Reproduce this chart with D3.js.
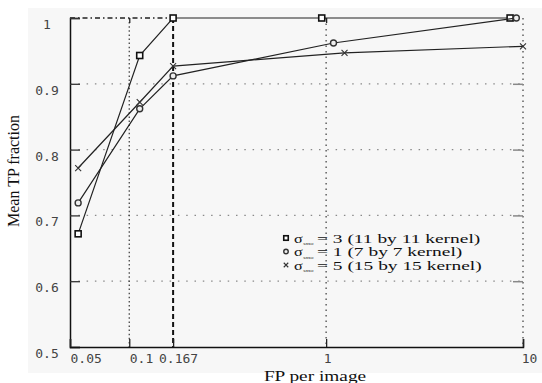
<!DOCTYPE html>
<html>
<head>
<meta charset="utf-8">
<script src="https://cdn.jsdelivr.net/npm/d3@7"></script>
<style>
  body { margin: 0; background: #fff; }
</style>
</head>
<body>
<script>
const width = 542;
const height = 383;

// data
const fpSmo3 = [0.055, 0.113, 0.167, 0.95, 8.6];
const tpSmo3 = [0.672, 0.943, 1.0, 1.0, 1.0];
const fpSmo1 = [0.055, 0.113, 0.167, 1.09, 9.25];
const tpSmo1 = [0.719, 0.862, 0.912, 0.962, 1.0];
const fpSmo5 = [0.055, 0.113, 0.167, 1.24, 10];
const tpSmo5 = [0.772, 0.872, 0.927, 0.947, 0.957];
const legendLabels = ["= 3 (11 by 11 kernel)", "= 1 (7 by 7 kernel)", "= 5 (15 by 15 kernel)"];
const markerTypes = ["square", "circle", "cross"];
const xTicks = [0.05, 0.1, 0.167, 1, 10];
const yTicks = [0.5, 0.6, 0.7, 0.8, 0.9, 1];

const series = [
    { fp: fpSmo3, tp: tpSmo3 },
    { fp: fpSmo1, tp: tpSmo1 },
    { fp: fpSmo5, tp: tpSmo5 }
].map((s, i) => ({
    marker: markerTypes[i],
    label: legendLabels[i],
    points: s.fp.map((f, j) => ({ fp: f, tp: s.tp[j] }))
}));

const svg = d3.select("body")
    .append("svg")
    .attr("width", width)
    .attr("height", height);

svg.append("rect").attr("width", width).attr("height", height).attr("fill", "#fff");
svg.append("rect")
    .attr("x", 28).attr("y", 8)
    .attr("width", 514).attr("height", 365)
    .attr("fill", "#f7f7f7");

const x = d3.scaleLog().domain([0.05, 10]).range([70, 523]);
const y = d3.scaleLinear().domain([0.5, 1]).range([347, 18]);

// grid lines
const grid = svg.append("g");
grid.selectAll(".hgrid")
    .data(yTicks.filter(d => d > 0.5 && d < 1))
    .enter().append("line")
    .attr("x1", x(0.05)).attr("x2", x(10))
    .attr("y1", d => y(d)).attr("y2", d => y(d))
    .attr("stroke", "#8a8a8a")
    .attr("stroke-width", 1.2)
    .attr("stroke-dasharray", "1.5 6.8");

// dash-dot top line up to 0.167
grid.append("line")
    .attr("x1", x(0.05)).attr("x2", x(0.167))
    .attr("y1", y(1)).attr("y2", y(1))
    .attr("stroke", "#222")
    .attr("stroke-width", 1.3)
    .attr("stroke-dasharray", "5 3 1.5 3");

const vStyle = {
    0.1: { stroke: "#444", w: 1.3, dash: "1.5 2.6" },
    0.167: { stroke: "#111", w: 2, dash: "5 3" },
    1: { stroke: "#555", w: 1.4, dash: "1.5 4" },
    10: { stroke: "#555", w: 1.4, dash: "1.5 4" }
};
grid.selectAll(".vgrid")
    .data(xTicks.filter(d => d > 0.05))
    .enter().append("line")
    .attr("x1", d => x(d)).attr("x2", d => x(d))
    .attr("y1", y(1)).attr("y2", y(0.5))
    .attr("stroke", d => vStyle[d].stroke)
    .attr("stroke-width", d => vStyle[d].w)
    .attr("stroke-dasharray", d => vStyle[d].dash);

// axes
const yAxis = svg.append("g")
    .attr("transform", `translate(${x(0.05)},0)`)
    .call(d3.axisLeft(y).tickValues(yTicks).tickSize(-10)
        .tickFormat(d => d === 1 ? "1" : d3.format(".1f")(d)));
yAxis.select(".domain").attr("stroke", "#111").attr("stroke-width", 1.5);
yAxis.selectAll(".tick line").attr("stroke", "#333").attr("stroke-width", 1.3);
yAxis.selectAll(".tick text")
    .attr("x", -23)
    .attr("dy", "0.8em")
    .attr("text-anchor", "middle")
    .attr("fill", "#444")
    .style("font-family", "DejaVu Sans Mono")
    .style("font-size", "13px");

const rightTicks = svg.append("g")
    .attr("transform", `translate(${x(10)},0)`)
    .call(d3.axisRight(y).tickValues(yTicks.filter(d => d > 0.5 && d < 1)).tickSize(-10).tickFormat(""));
rightTicks.select(".domain").remove();
rightTicks.selectAll(".tick line").attr("stroke", "#888").attr("stroke-width", 1.5);

const topTicks = svg.append("g")
    .attr("transform", `translate(0,${y(1)})`)
    .call(d3.axisTop(x).tickValues([0.1, 1]).tickSize(-5).tickFormat(""));
topTicks.select(".domain").remove();
topTicks.selectAll(".tick line").attr("stroke", "#222").attr("stroke-width", 1.3);

const xLabelShift = { 0.05: ["start", 0], 0.1: ["start", 0], 0.167: ["middle", 5], 1: ["middle", 1], 10: ["middle", 6] };
const xAxis = svg.append("g")
    .attr("transform", `translate(0,${y(0.5)})`)
    .call(d3.axisBottom(x).tickValues(xTicks).tickSize(-8).tickFormat(d => String(d)));
xAxis.select(".domain").attr("stroke", "#111").attr("stroke-width", 1.5);
xAxis.selectAll(".tick line").attr("stroke", "#222").attr("stroke-width", 1.3);
xAxis.selectAll(".tick text")
    .attr("y", 7)
    .attr("dy", "0.71em")
    .attr("text-anchor", d => xLabelShift[d][0])
    .attr("dx", d => xLabelShift[d][1])
    .attr("fill", "#444")
    .style("font-family", "DejaVu Sans Mono")
    .style("font-size", "13px");

// axis titles
svg.append("text")
    .attr("transform", `translate(${x(0.05) + 245},381) scale(1.38,1)`)
    .attr("text-anchor", "middle")
    .style("font-family", "Liberation Serif")
    .style("font-size", "14px")
    .attr("fill", "#111")
    .text("FP per image");

svg.append("text")
    .attr("transform", "translate(19,171) rotate(-90)")
    .attr("text-anchor", "middle")
    .style("font-family", "Liberation Serif")
    .style("font-size", "16px")
    .attr("fill", "#111")
    .text("Mean TP fraction");

// markers
function drawMarker(g, type, size) {
    if (type === "square") {
        g.append("rect")
            .attr("x", -size / 2).attr("y", -size / 2)
            .attr("width", size).attr("height", size)
            .attr("fill", "#fff").attr("stroke", "#111").attr("stroke-width", 1.6);
    } else if (type === "circle") {
        g.append("circle")
            .attr("r", size / 2)
            .attr("fill", "#eee").attr("stroke", "#333").attr("stroke-width", 1.4);
    } else {
        const h = size / 2;
        g.append("path")
            .attr("d", `M${-h},${-h}L${h},${h}M${-h},${h}L${h},${-h}`)
            .attr("stroke", "#333").attr("stroke-width", 1.1);
    }
}

const line = d3.line().x(d => x(d.fp)).y(d => y(d.tp));

const sg = svg.selectAll(".series")
    .data(series)
    .enter().append("g");

sg.append("path")
    .attr("d", d => line(d.points))
    .attr("fill", "none")
    .attr("stroke", "#222")
    .attr("stroke-width", 1.2);

sg.each(function(s) {
    d3.select(this).selectAll(".pt")
        .data(s.points)
        .enter().append("g")
        .attr("transform", d => `translate(${x(d.fp)},${y(d.tp)})`)
        .each(function() { drawMarker(d3.select(this), s.marker, 6); });
});

// legend
const legend = svg.append("g").attr("transform", "translate(286,238)");
const row = legend.selectAll("g")
    .data(series)
    .enter().append("g")
    .attr("transform", (d, i) => `translate(0,${i * 13.5})`);

row.each(function(s) {
    drawMarker(d3.select(this), s.marker, 4.5);
});

row.append("text")
    .attr("transform", "translate(8,4.5) scale(1.35,1)")
    .style("font-family", "Liberation Serif")
    .style("font-size", "12px")
    .attr("fill", "#111")
    .text("σ");
row.append("text")
    .attr("transform", "translate(17,7) scale(1.3,1)")
    .style("font-family", "Liberation Serif")
    .style("font-size", "5px")
    .style("font-style", "italic")
    .attr("fill", "#111")
    .text("smo");
row.append("text")
    .attr("transform", "translate(31,4.5) scale(1.62,1)")
    .style("font-family", "Liberation Serif")
    .style("font-size", "12px")
    .attr("fill", "#111")
    .text(d => d.label);
</script>
</body>
</html>
